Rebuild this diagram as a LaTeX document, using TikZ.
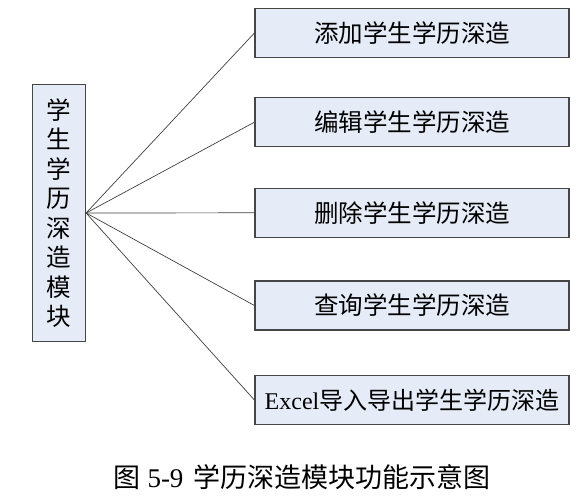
\documentclass[tikz,border=0pt]{standalone}
\usepackage{fontspec}
\setmainfont{Liberation Serif}
\newfontfamily\cjk{Noto Sans CJK SC}
\definecolor{boxfill}{RGB}{230,236,247}
\definecolor{boxline}{RGB}{70,70,70}
\tikzset{
  funcbox/.style={draw=boxline,line width=1.2pt,fill=boxfill,minimum width=314pt,
    minimum height=49pt,inner sep=0pt,font=\fontsize{24.5}{24.5}\selectfont\cjk},
  link/.style={draw=black!75,line width=0.7pt}
}
\begin{document}
\begin{tikzpicture}[x=1pt,y=-1pt]
	\useasboundingbox (0,0) rectangle (588,496);
	% module box on the left
	\node[funcbox,minimum width=53pt,minimum height=257pt,align=center,
	  font=\fontsize{24.5}{29.5}\selectfont\cjk] (mod) at (59,213)
	  {学\\生\\学\\历\\深\\造\\模\\块};
	% functions
	\node[funcbox] (add) at (412,33) {添加学生学历深造};
	\node[funcbox] (edit) at (412,122.2) {编辑学生学历深造};
	\node[funcbox] (del) at (412,212.8) {删除学生学历深造};
	\node[funcbox] (query) at (412,305.5) {查询学生学历深造};
	\node[funcbox,font=\fontsize{24}{24}\selectfont\cjk] (excel) at (412,400)
	  {{\rmfamily Excel}导入导出学生学历深造};
	\foreach \f in {add,edit,del,query,excel}
		\draw[link] (mod.east) -- (\f.west);
	% caption
	\node[font=\fontsize{27}{27}\selectfont] (cap) at (302,477)
	  {{\cjk 图}\hspace{7pt}5-9\hspace{10pt}{\cjk 学历深造模块功能示意图}};
\end{tikzpicture}
\end{document}
